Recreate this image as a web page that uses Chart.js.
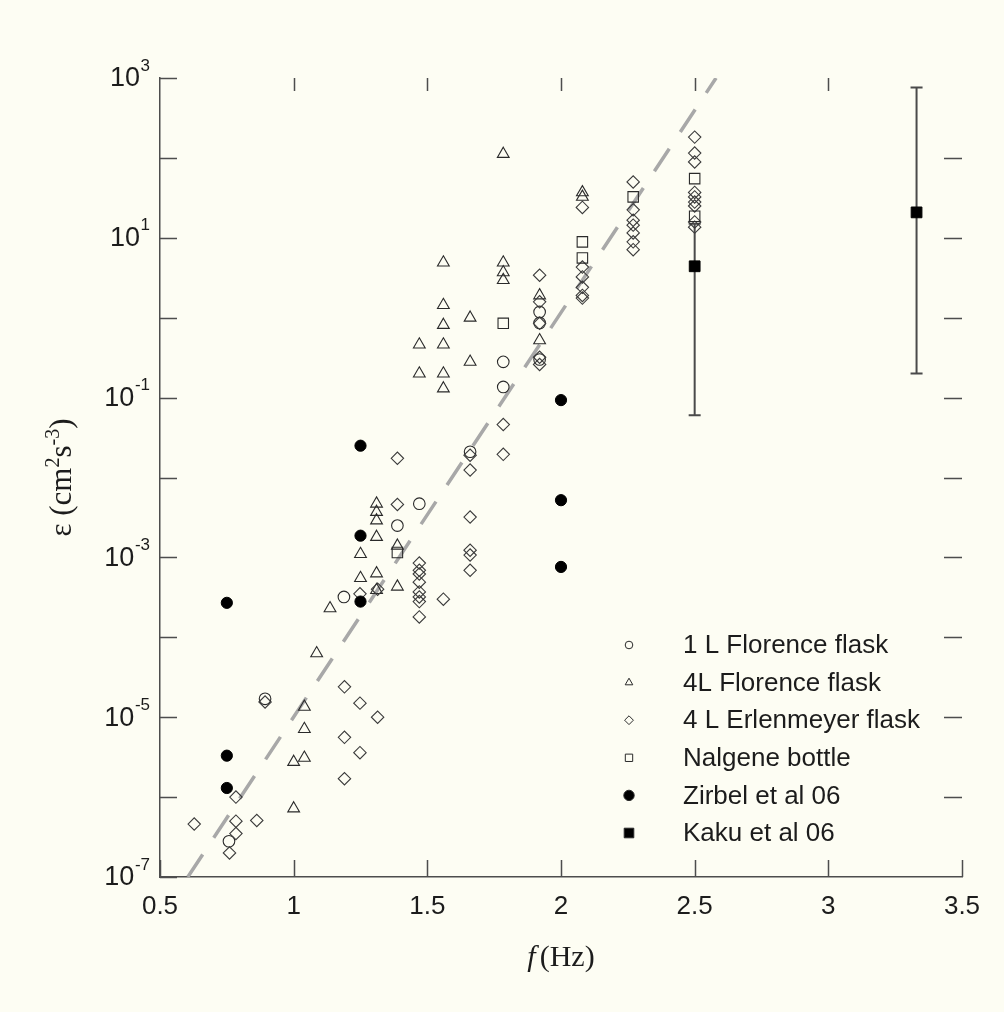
<!DOCTYPE html>
<html>
<head>
<meta charset="utf-8">
<script src="https://cdn.jsdelivr.net/npm/chart.js@4.4.1/dist/chart.umd.min.js"></script>
<style>
	html, body { margin: 0; padding: 0; background: #fdfdf3; }
	#wrap { position: relative; width: 1004px; height: 1012px; }
</style>
</head>
<body>
<div id="wrap"><canvas id="chart"></canvas></div>
<script>
// shaking frequency f (Hz) against dissipation rate (cm^2 s^-3)
const florence1X = [0.758, 0.893, 1.188, 1.388, 1.47, 1.66, 1.784, 1.784, 1.92, 1.92, 1.92];
const florence1Y = [2.8e-7, 1.7e-5, 3.2e-4, 2.5e-3, 4.7e-3, 0.021, 0.28, 0.136, 1.18, 0.86, 0.30];

const florence4X = [1.0, 1.0, 1.04, 1.04, 1.04, 1.086, 1.136, 1.25, 1.25, 1.31, 1.31, 1.31, 1.31, 1.31, 1.31,
	1.388, 1.388, 1.47, 1.47, 1.56, 1.56, 1.56, 1.56, 1.56, 1.56, 1.66, 1.66, 1.784, 1.784, 1.784, 1.784,
	1.92, 1.92, 2.08, 2.08];
const florence4Y = [7.2e-7, 2.75e-6, 3.1e-6, 7.1e-6, 1.35e-5, 6.3e-5, 2.3e-4, 5.5e-4, 1.1e-3, 3.9e-4, 6.3e-4, 1.8e-3, 2.9e-3, 3.7e-3, 4.7e-3,
	4.3e-4, 1.4e-3, 0.20, 0.46, 0.13, 0.20, 0.46, 0.81, 1.44, 4.9, 0.28, 1.0, 2.95, 3.7, 4.9, 112,
	0.52, 1.9, 32.5, 37];

const erlenX = [0.628, 0.76, 0.784, 0.784, 0.784, 0.862, 0.893, 1.19, 1.19, 1.19, 1.248, 1.248, 1.248, 1.314, 1.314,
	1.388, 1.388, 1.47, 1.47, 1.47, 1.47, 1.47, 1.47, 1.47, 1.47, 1.56,
	1.66, 1.66, 1.66, 1.66, 1.66, 1.66, 1.784, 1.784,
	1.92, 1.92, 1.92, 1.92, 1.92,
	2.08, 2.08, 2.08, 2.08, 2.08, 2.08,
	2.27, 2.27, 2.27, 2.27, 2.27, 2.27, 2.27,
	2.5, 2.5, 2.5, 2.5, 2.5, 2.5, 2.5, 2.5, 2.5];
const erlenY = [4.6e-7, 2.0e-7, 1.0e-6, 5.0e-7, 3.5e-7, 5.1e-7, 1.55e-5, 2.4e-5, 5.6e-6, 1.7e-6, 1.5e-5, 3.6e-6, 3.5e-4, 1.0e-5, 4.0e-4,
	0.0174, 4.6e-3, 8.5e-4, 6.9e-4, 6.2e-4, 4.9e-4, 3.7e-4, 3.2e-4, 2.8e-4, 1.8e-4, 3.0e-4,
	0.019, 0.0124, 3.2e-3, 1.23e-3, 1.07e-3, 6.9e-4, 0.046, 0.0195,
	3.4, 1.58, 0.85, 0.32, 0.26,
	24, 4.3, 3.24, 2.4, 1.9, 1.76,
	50, 22.4, 16.6, 14.4, 11.5, 8.9, 7.1,
	182, 115, 89, 37, 32.5, 28, 25, 15.8, 13.6];

const nalgeneX = [1.388, 1.784, 2.08, 2.08, 2.27, 2.5, 2.5];
const nalgeneY = [1.15e-3, 0.85, 8.9, 5.6, 32.5, 55, 18.6];

const zirbelX = [0.75, 0.75, 0.75, 1.25, 1.25, 1.25, 2.0, 2.0, 2.0];
const zirbelY = [2.7e-4, 3.3e-6, 1.3e-6, 0.025, 1.87e-3, 2.8e-4, 0.093, 5.2e-3, 7.6e-4];

const kakuX = [2.5, 3.33];
const kakuY = [4.4, 20.8];
const kakuLow = [0.06, 0.2];
const kakuHigh = [15, 760];

// dashed trend line, end points
const fitX = [0.604, 2.58];
const fitY = [1e-7, 1e3];

const xTicks = [0.5, 1, 1.5, 2, 2.5, 3, 3.5];
const xTickLabels = ['0.5', '1', '1.5', '2', '2.5', '3', '3.5'];
const decadeExp = [-7, -6, -5, -4, -3, -2, -1, 0, 1, 2, 3];
const yLabelExp = [-7, -5, -3, -1, 1, 3];

const seriesNames = ['1 L Florence flask', '4L Florence flask', '4 L Erlenmeyer flask', 'Nalgene bottle', 'Zirbel et al 06', 'Kaku et al 06'];

function pts(xs, ys) {
	return xs.map((x, i) => ({x: x, y: ys[i]}));
}

const INK = '#1c1c1c';
const SANS = '"Liberation Sans", Arial, sans-serif';
const SERIF = '"Liberation Serif", "Times New Roman", serif';

const openMark = (style, r, color) => ({
	pointStyle: style,
	pointRadius: r,
	pointBackgroundColor: 'rgba(0,0,0,0)',
	pointBorderColor: color,
	pointBorderWidth: 1.1
});
const filledMark = (style, r) => ({
	pointStyle: style,
	pointRadius: r,
	pointBackgroundColor: '#000',
	pointBorderColor: '#000',
	pointBorderWidth: 1
});

const datasets = [
	Object.assign({label: seriesNames[5], data: pts(kakuX, kakuY), order: 0}, filledMark('rect', 7.6)),
	Object.assign({label: seriesNames[4], data: pts(zirbelX, zirbelY), order: 1}, filledMark('circle', 5.6)),
	Object.assign({label: seriesNames[3], data: pts(nalgeneX, nalgeneY), order: 2}, openMark('rect', 7.4, '#2a2a2a')),
	Object.assign({label: seriesNames[2], data: pts(erlenX, erlenY), order: 3}, openMark('rectRot', 6.2, '#3a3a3a')),
	Object.assign({label: seriesNames[1], data: pts(florence4X, florence4Y), order: 4}, openMark('triangle', 6.8, '#2a2a2a')),
	Object.assign({label: seriesNames[0], data: pts(florence1X, florence1Y), order: 5}, openMark('circle', 5.8, '#2a2a2a')),
	{
		label: 'fit',
		data: pts(fitX, fitY),
		showLine: true,
		pointRadius: 0,
		borderColor: '#a8a8a8',
		borderWidth: 3.5,
		borderDash: [27, 20],
		order: 10
	}
];

const legendItems = [
	{style: 'circle', r: 3.8, fill: null},
	{style: 'triangle', r: 4.4, fill: null},
	{style: 'rectRot', r: 4.4, fill: null},
	{style: 'rect', r: 5.2, fill: null},
	{style: 'circle', r: 5.2, fill: '#000'},
	{style: 'rect', r: 6.8, fill: '#000'}
];

const paperPlugin = {
	id: 'paper',
	beforeDraw(chart) {
		const ctx = chart.ctx;
		ctx.save();
		ctx.fillStyle = '#fdfdf3';
		ctx.fillRect(0, 0, chart.width, chart.height);
		ctx.restore();
	}
};

const errorBarPlugin = {
	id: 'errorBars',
	beforeDatasetsDraw(chart) {
		const ctx = chart.ctx;
		const xs = chart.scales.x, ys = chart.scales.y;
		ctx.save();
		ctx.strokeStyle = '#4a4a4a';
		ctx.lineWidth = 2;
		kakuX.forEach((x, i) => {
			const px = xs.getPixelForValue(x);
			const top = ys.getPixelForValue(kakuHigh[i]);
			const bot = ys.getPixelForValue(kakuLow[i]);
			ctx.beginPath();
			ctx.moveTo(px, top); ctx.lineTo(px, bot);
			ctx.moveTo(px - 6, top); ctx.lineTo(px + 6, top);
			ctx.moveTo(px - 6, bot); ctx.lineTo(px + 6, bot);
			ctx.stroke();
		});
		ctx.restore();
	}
};

function drawPow(ctx, right, y, exp) {
	const e = String(exp);
	ctx.font = '17px ' + SANS;
	const ew = ctx.measureText(e).width;
	ctx.textAlign = 'left';
	ctx.fillText(e, right - ew, y - 12);
	ctx.font = '27px ' + SANS;
	ctx.textAlign = 'right';
	ctx.fillText('10', right - ew - 0.5, y + 1);
}

const framePlugin = {
	id: 'frame',
	afterDraw(chart) {
		const ctx = chart.ctx;
		const xs = chart.scales.x, ys = chart.scales.y;
		const a = chart.chartArea;
		ctx.save();

		// inward ticks; top and right have no axis line, only ticks
		ctx.lineWidth = 1.5;
		ctx.strokeStyle = '#4d4d4d';
		xTicks.forEach((v, i) => {
			const px = Math.round(xs.getPixelForValue(v)) + 0.5;
			ctx.beginPath();
			ctx.moveTo(px, a.bottom); ctx.lineTo(px, a.bottom - 17);
			if (i > 0 && i < xTicks.length - 1) {
				ctx.moveTo(px, a.top); ctx.lineTo(px, a.top + 13);
			}
			ctx.stroke();
		});
		decadeExp.forEach((e, i) => {
			const py = Math.round(ys.getPixelForValue(Math.pow(10, e))) + 0.5;
			ctx.beginPath();
			ctx.moveTo(a.left, py); ctx.lineTo(a.left + 17, py);
			if (i > 0 && i < decadeExp.length - 1) {
				ctx.moveTo(a.right, py); ctx.lineTo(a.right - 18, py);
			}
			ctx.stroke();
		});

		// tick labels
		ctx.fillStyle = INK;
		ctx.textBaseline = 'middle';
		ctx.font = '26px ' + SANS;
		ctx.textAlign = 'center';
		xTicks.forEach((v, i) => {
			ctx.fillText(xTickLabels[i], xs.getPixelForValue(v), a.bottom + 30);
		});
		yLabelExp.forEach(e => {
			drawPow(ctx, a.left - 10, ys.getPixelForValue(Math.pow(10, e)), e);
		});

		// x title
		ctx.textBaseline = 'alphabetic';
		ctx.textAlign = 'left';
		ctx.font = 'italic 30px ' + SERIF;
		const fw = ctx.measureText('f').width;
		ctx.font = '30px ' + SERIF;
		const hw = ctx.measureText('(Hz)').width;
		const xMid = (a.left + a.right) / 2;
		let tx = xMid - (fw + 4 + hw) / 2;
		ctx.font = 'italic 30px ' + SERIF;
		ctx.fillText('f', tx, 966);
		ctx.font = '30px ' + SERIF;
		ctx.fillText('(Hz)', tx + fw + 4, 966);

		// y title, rotated
		const parts = [['\u03b5 (cm', false], ['2', true], ['s', false], ['-3', true], [')', false]];
		let total = 0;
		parts.forEach(p => {
			ctx.font = (p[1] ? '20px ' : '31px ') + SERIF;
			total += ctx.measureText(p[0]).width;
		});
		ctx.save();
		ctx.translate(71, (a.top + a.bottom) / 2);
		ctx.rotate(-Math.PI / 2);
		let cx = -total / 2;
		parts.forEach(p => {
			ctx.font = (p[1] ? '20px ' : '31px ') + SERIF;
			ctx.fillText(p[0], cx, p[1] ? -12 : 0);
			cx += ctx.measureText(p[0]).width;
		});
		ctx.restore();

		// legend
		ctx.textBaseline = 'middle';
		ctx.textAlign = 'left';
		ctx.font = '26px ' + SANS;
		legendItems.forEach((it, i) => {
			const ly = 645 + i * 37.6;
			ctx.fillStyle = it.fill || 'rgba(0,0,0,0)';
			ctx.strokeStyle = '#2a2a2a';
			ctx.lineWidth = 1;
			Chart.helpers.drawPoint(ctx, {pointStyle: it.style, radius: it.r, borderWidth: 1, rotation: 0}, 629, ly);
			ctx.fillStyle = INK;
			ctx.fillText(seriesNames[i], 683, ly + 1);
		});

		ctx.restore();
	}
};

new Chart(document.getElementById('chart'), {
	type: 'scatter',
	data: {datasets: datasets},
	options: {
		responsive: true,
		maintainAspectRatio: false,
		animation: false,
		layout: {padding: {left: 160, right: 42, top: 78, bottom: 135}},
		plugins: {
			legend: {display: false},
			tooltip: {enabled: false}
		},
		scales: {
			x: {
				type: 'linear',
				min: 0.5,
				max: 3.5,
				ticks: {display: false},
				grid: {display: false, drawTicks: false},
				border: {display: true, color: '#4d4d4d', width: 1.5}
			},
			y: {
				type: 'logarithmic',
				min: 1e-7,
				max: 1e3,
				ticks: {display: false},
				grid: {display: false, drawTicks: false},
				border: {display: true, color: '#4d4d4d', width: 1.5}
			}
		}
	},
	plugins: [paperPlugin, errorBarPlugin, framePlugin]
});
</script>
</body>
</html>
